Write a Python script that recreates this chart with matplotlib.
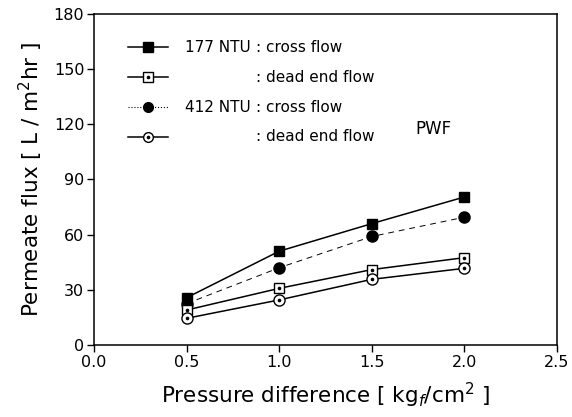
import matplotlib.pyplot as plt
from matplotlib.lines import Line2D

# ======= 数据 =======
pressure = [0.5, 1.0, 1.5, 2.0]
ntu177_cross = [25.7, 51.0, 66.0, 80.5]
ntu177_dead = [19.0, 30.8, 41.0, 47.5]
ntu412_cross = [22.5, 42.0, 59.0, 69.5]
ntu412_dead = [14.5, 24.5, 35.7, 41.7]

X_TICKS = [0.0, 0.5, 1.0, 1.5, 2.0, 2.5]
Y_TICKS = [0, 30, 60, 90, 120, 150, 180]

# ======= 样式 =======
plt.rcParams["font.family"] = ["DejaVu Sans"]
LW = 1.1
MS = 8

fig = plt.figure(figsize=(5.72, 4.17), dpi=100)
ax = fig.add_axes([0.1643, 0.1727, 0.8095, 0.7937])

# series
ax.plot(pressure, ntu177_cross, "-", color="black", lw=LW, marker="s", ms=MS - 0.5,
        mfc="black", mec="black")
ax.plot(pressure, ntu412_cross, "--", color="black", lw=0.7, dashes=(6, 5),
        marker="o", ms=MS, mfc="black", mec="black")
ax.plot(pressure, ntu177_dead, "-", color="black", lw=LW, marker="s", ms=MS - 1,
        mfc="white", mec="black", mew=1.0)
ax.plot(pressure, ntu412_dead, "-", color="black", lw=LW, marker="o", ms=MS,
        mfc="white", mec="black", mew=1.0)
# center dots of open symbols
ax.plot(pressure, ntu177_dead, ls="none", marker="o", ms=1.6, color="black")
ax.plot(pressure, ntu412_dead, ls="none", marker="o", ms=1.6, color="black")

ax.set_xlim(0, 2.5)
ax.set_ylim(0, 180)
ax.set_xticks(X_TICKS)
ax.set_yticks(Y_TICKS)
ax.set_xticklabels([f"{v:.1f}" for v in X_TICKS])
ax.tick_params(direction="out", length=5, width=1.0, labelsize=11.5, pad=2)
for s in ax.spines.values():
    s.set_linewidth(1.1)

ax.set_xlabel("Pressure difference [ kg$_f$/cm$^2$ ]", fontsize=15.5, labelpad=8)
ax.set_ylabel("Permeate flux [ L / m$^2$hr ]", fontsize=15.5, labelpad=6)

# ======= 图例（手动绘制） =======
leg_rows = [
    ("s", "black", "-", "177 NTU", ": cross flow"),
    ("s", "white", "-", "", ": dead end flow"),
    ("o", "black", ":", "412 NTU", ": cross flow"),
    ("o", "white", "-", "", ": dead end flow"),
]
y0, dy = 0.900, 0.0905
for i, (mk, fc, ls, name, desc) in enumerate(leg_rows):
    y = y0 - i * dy
    ax.add_line(Line2D([0.073, 0.160], [y, y], transform=ax.transAxes,
                       color="black", lw=LW if ls == "-" else 0.8, ls=ls))
    ax.add_line(Line2D([0.117], [y], transform=ax.transAxes, marker=mk, ms=MS - 1,
                       mfc=fc, mec="black", mew=1.0, color="black", ls="none"))
    if fc == "white":
        ax.add_line(Line2D([0.117], [y], transform=ax.transAxes, marker="o",
                           ms=1.6, color="black", ls="none"))
    if name:
        ax.text(0.350, y, name + " ", transform=ax.transAxes, ha="right", va="center",
                fontsize=11)
    ax.text(0.350, y, desc, transform=ax.transAxes, ha="left", va="center",
            fontsize=11)

ax.text(0.695, 0.653, "PWF", transform=ax.transAxes, ha="left", va="center",
        fontsize=12)

fig.savefig("out.png", dpi=100)
